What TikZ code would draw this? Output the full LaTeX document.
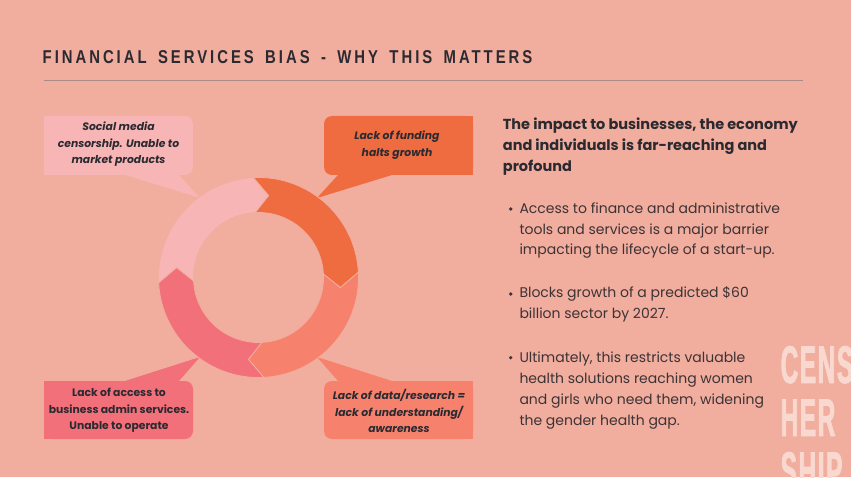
\documentclass[tikz,border=0pt]{standalone}
\usepackage{fontspec}
\setmainfont{Poppins}
\newfontfamily\titlefont[FakeStretch=0.8,LetterSpace=16,WordSpace=1.6]{Liberation Sans}
\newfontfamily\markfont[FakeStretch=0.46,FakeBold=1.5,LetterSpace=3]{Liberation Sans}

\definecolor{bgpeach}{HTML}{F1AD9D}
\definecolor{ringpink}{HTML}{F7B5B5}
\definecolor{ringorange}{HTML}{EF6B40}
\definecolor{ringsalmon}{HTML}{F6826E}
\definecolor{ringrose}{HTML}{F17079}
\definecolor{inkdark}{HTML}{2B2A31}
\definecolor{inkbody}{HTML}{3D3336}
\definecolor{ruleline}{HTML}{A98C86}
\definecolor{marklight}{HTML}{F8D8CF}

\begin{document}
\begin{tikzpicture}[x=1pt, y=1pt, every node/.style={inner sep=0pt},
    callout/.style={font=\fontsize{10.8}{16.5}\selectfont\bfseries\itshape, text=inkdark, align=center},
    bodytext/.style={font=\fontsize{14}{20.8}\selectfont, text=inkbody, align=left, anchor=base west}]
    \useasboundingbox (0,0) rectangle (851,477);
    \fill[bgpeach] (0,0) rectangle (851,477);

    % Titel und Linie
    \node[anchor=base west, font=\titlefont\bfseries\fontsize{18.6}{20}\selectfont, text=inkdark] (title) at (42.5,413) {FINANCIAL SERVICES BIAS - WHY THIS MATTERS};
    \draw[ruleline, line width=1pt] (44,396.3) -- (803,396.3);

    % Sprechblasen (oben links, oben rechts, unten links, unten rechts)
    \coordinate (ring) at (258.5,199.5);
    \fill[ringpink] (125,302) -- (200,279) -- (179,302) -- cycle;
    \fill[ringpink, rounded corners=8pt] (44,302) rectangle (193,361);
    \fill[ringpink] (44,302) rectangle (120,361);
    \fill[ringorange] (338,302) -- (317,279) -- (392,302) -- cycle;
    \fill[ringorange, rounded corners=8pt] (324,302) rectangle (473,361);
    \fill[ringorange] (400,302) rectangle (473,361);
    \fill[ringrose] (125,96) -- (200,120) -- (179,96) -- cycle;
    \fill[ringrose, rounded corners=8pt] (44,38) rectangle (193,96);
    \fill[ringrose] (44,38) rectangle (120,96);
    \fill[ringsalmon] (338,96) -- (317,120) -- (392,96) -- cycle;
    \fill[ringsalmon, rounded corners=8pt] (324,38) rectangle (473,96);
    \fill[ringsalmon] (400,38) rectangle (473,96);

    % Ring aus vier Pfeilen
    \begin{scope}[shift={(ring)}]
    \foreach \b/\col in {93/ringorange, 3/ringsalmon, -87/ringrose, -177/ringpink} {
        \pgfmathsetmacro{\e}{\b-90}
        \fill[\col, draw=bgpeach, line width=0.8pt] (\b:100) arc[start angle=\b, end angle=\e, radius=100]
            -- (\e-10:82.5) -- (\e:65) arc[start angle=\e, end angle=\b, radius=65] -- (\b-10:82.5) -- cycle;
    }
    \end{scope}

    \node[callout] (social) at (118.5,332.5) {Social media\\censorship. Unable to\\market products};
    \node[callout] (funding) at (397,332) {Lack of funding\\halts growth};
    \node[callout, font=\fontsize{10.8}{16.5}\selectfont\bfseries] (access) at (119,66.5) {Lack of access to\\business admin services.\\Unable to operate};
    \node[callout] (datares) at (399,66) {Lack of data/research =\\lack of understanding/\\awareness};

    % Text rechts
    \node[bodytext, font=\fontsize{14.5}{21.2}\selectfont\bfseries, text=inkdark] (impact) at (502.7,305.3) {The impact to businesses, the economy\\and individuals is far-reaching and\\profound};
    \node[bodytext] (pone) at (519.3,222) {Access to finance and administrative\\tools and services is a major barrier\\impacting the lifecycle of a start-up.};
    \node[bodytext] (ptwo) at (519.3,158.7) {Blocks growth of a predicted \$60\\billion sector by 2027.};
    \node[bodytext] (pthree) at (519.3,52) {Ultimately, this restricts valuable\\health solutions reaching women\\and girls who need them, widening\\the gender health gap.};
    \foreach \y in {268,183,119.3} \fill[inkbody] (510.7,\y) circle (1.8);

    % Wasserzeichen
    \node[anchor=base west, align=left, text=marklight, font=\markfont\bfseries\fontsize{53}{53}\selectfont] (mark) at (780.5,-12) {CENS\\HER\\SHIP};
\end{tikzpicture}
\end{document}
